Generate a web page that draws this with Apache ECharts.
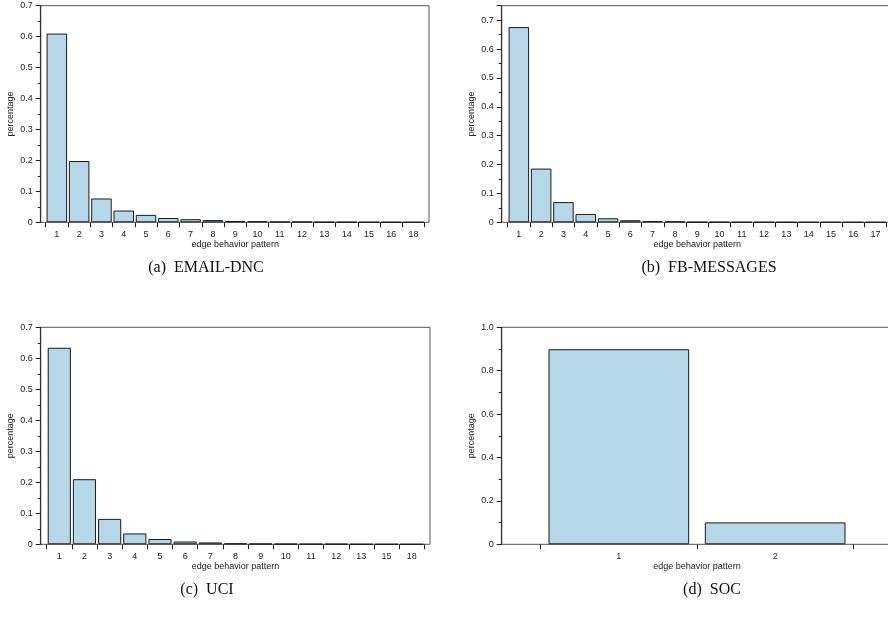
<!DOCTYPE html>
<html>
<head>
<meta charset="utf-8">
<script src="https://cdn.jsdelivr.net/npm/echarts@6/dist/echarts.min.js"></script>
<style>html,body{margin:0;padding:0;background:#fff}#c{width:888px;height:617px}</style>
</head>
<body>
<div id="c"></div>
<script>
// ---- data ----
const catsA = ['1','2','3','4','5','6','7','8','9','10','11','12','13','14','15','16','18'];
const valsA = [0.61,0.198,0.077,0.038,0.024,0.014,0.010,0.007,0.004,0.003,0.002,0.002,0.001,0.0008,0.0005,0.0003,0.0002];
const catsB = ['1','2','3','4','5','6','7','8','9','10','11','12','13','14','15','16','17'];
const valsB = [0.676,0.186,0.070,0.029,0.014,0.007,0.004,0.003,0.001,0.0008,0.0005,0.0004,0.0003,0.0002,0.0002,0.0001,0.0001];
const catsC = ['1','2','3','4','5','6','7','8','9','10','11','12','13','15','18'];
const valsC = [0.634,0.21,0.082,0.035,0.017,0.009,0.006,0.003,0.002,0.0015,0.001,0.001,0.0005,0.0003,0.0002];
const catsD = ['1','2'];
const valsD = [0.899,0.101];
const captions = ['(a)  EMAIL-DNC','(b)  FB-MESSAGES','(c)  UCI','(d)  SOC'];
const yMax = [0.7, 0.75, 0.7, 1.0];
const yInterval = [0.1, 0.1, 0.1, 0.2];

// ---- layout ----
const panels = [
  {cats: catsA, vals: valsA, frame:{left:40.7, top:5.7, width:388.3, height:216.6}, plot:{left:45.7, width:379}, gap:'8%', cap:[206,268]},
  {cats: catsB, vals: valsB, frame:{left:501.7, top:5.7, width:400, height:216.6}, plot:{left:507.7, width:379}, gap:'8%', cap:[709,268]},
  {cats: catsC, vals: valsC, frame:{left:40.7, top:327.3, width:389.3, height:217}, plot:{left:46.7, width:377.6}, gap:'8%', cap:[207,590]},
  {cats: catsD, vals: valsD, frame:{left:501.7, top:327.3, width:400, height:217}, plot:{left:540.7, width:312.6}, gap:'10%', cap:[712,590]}
];

const FONT = 'Liberation Sans, Arial, sans-serif';
const grid = [], xAxis = [], yAxis = [], series = [], graphic = [];
panels.forEach((p, i) => {
  const fi = 2*i, pi = 2*i+1;
  grid.push({left:p.frame.left, top:p.frame.top, width:p.frame.width, height:p.frame.height,
    show:true, borderColor:'#555', borderWidth:1, backgroundColor:'transparent', containLabel:false, outerBoundsMode:'none'});
  grid.push({left:p.plot.left, top:p.frame.top, width:p.plot.width, height:p.frame.height, containLabel:false, outerBoundsMode:'none'});
  // frame axes
  xAxis.push({type:'value', gridIndex:fi, show:false, min:0, max:1});
  yAxis.push({type:'value', gridIndex:fi, min:0, max:yMax[i], interval:yInterval[i],
    axisLine:{show:true, lineStyle:{color:'#333', width:1.2}},
    axisTick:{show:true, inside:false, length:5, lineStyle:{color:'#222'}},
    minorTick:{show:true, splitNumber:2, length:3, lineStyle:{color:'#222'}},
    splitLine:{show:false}, minorSplitLine:{show:false},
    axisLabel:{fontSize:9, fontFamily:FONT, color:'#222', margin:8, showMaxLabel: i!==1,
      formatter: v => Math.abs(v) < 1e-9 ? '0' : v.toFixed(1)},
    name:'percentage', nameLocation:'middle', nameGap:26,
    nameTextStyle:{fontSize:9, fontFamily:FONT, color:'#222'}
  });
  // plot axes
  xAxis.push({type:'category', gridIndex:pi, data:p.cats, boundaryGap:true,
    axisLine:{show:false},
    axisTick:{show:true, inside:false, length:5, alignWithLabel:false, interval:0, lineStyle:{color:'#222'}},
    axisLabel:{fontSize:9, fontFamily:FONT, color:'#222', margin:8, interval:0},
    name:'edge behavior pattern', nameLocation:'middle', nameGap:18,
    nameTextStyle:{fontSize:9, fontFamily:FONT, color:'#222'}
  });
  yAxis.push({type:'value', gridIndex:pi, min:0, max:yMax[i], show:false});
  series.push({type:'bar', xAxisIndex:pi, yAxisIndex:pi, data:p.vals, barCategoryGap:p.gap,
    itemStyle:{color:'#b5d7e8', borderColor:'#1a1a1a', borderWidth:1}, silent:true, animation:false});
  graphic.push({type:'text', x:p.cap[0], y:p.cap[1],
    style:{text:captions[i], font:'16px "Liberation Serif", "Times New Roman", serif', fill:'#111', align:'center', verticalAlign:'middle'}});
});

const chart = echarts.init(document.getElementById('c'), null, {renderer:'canvas'});
chart.setOption({animation:false, grid, xAxis, yAxis, series, graphic});
</script>
</body>
</html>
